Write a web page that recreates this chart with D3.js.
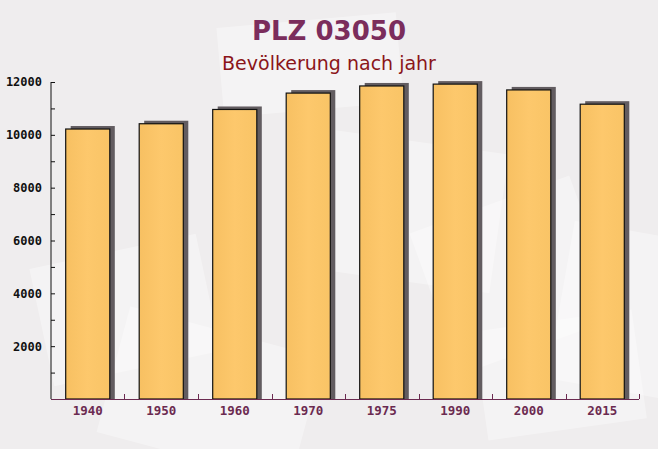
<!DOCTYPE html>
<html><head><meta charset="utf-8">
<script src="https://cdnjs.cloudflare.com/ajax/libs/d3/7.8.5/d3.min.js"></script>
<style>body{margin:0;background:#efedee}svg{display:block}</style>
</head><body><svg id="c" width="658" height="449"></svg>
<script>
const years = ["1940","1950","1960","1970","1975","1990","2000","2015"];
const population = [10220, 10420, 10960, 11580, 11850, 11920, 11700, 11160];
const yTicks = [2000, 4000, 6000, 8000, 10000, 12000];
const titleText = "PLZ 03050";
const subtitleText = "Bevölkerung nach jahr";

const svg = d3.select("#c");
const W = 658, H = 449;
const m = {left: 51, right: 19, top: 82, bottom: 50};

// background
svg.append("rect").attr("width", W).attr("height", H).attr("fill", "#efedee");
const deco = [[40,250,170,120,-12],[300,140,200,140,8],[430,200,170,150,-20],[110,330,200,130,15],[560,230,120,160,10],[220,20,180,90,-5],[480,320,160,110,-8]];
svg.append("g").selectAll("rect").data(deco).join("rect")
  .attr("x", d=>d[0]).attr("y", d=>d[1]).attr("width", d=>d[2]).attr("height", d=>d[3])
  .attr("transform", d=>`rotate(${d[4]},${d[0]+d[2]/2},${d[1]+d[3]/2})`)
  .attr("fill", "#ffffff").attr("opacity", 0.35);

const x = d3.scaleBand().domain(years).range([m.left, W - m.right]).paddingInner(0.4).paddingOuter(0.2);
const y = d3.scaleLinear().domain([0, 12000]).range([H - m.bottom, m.top]);

const defs = svg.append("defs");
const grad = defs.append("linearGradient").attr("id", "g").attr("x1", 0).attr("x2", 1).attr("y1", 0).attr("y2", 0);
grad.append("stop").attr("offset", "0%").attr("stop-color", "#f7c062");
grad.append("stop").attr("offset", "50%").attr("stop-color", "#fdc86c");
grad.append("stop").attr("offset", "100%").attr("stop-color", "#f9c466");

// shadows
svg.append("g").selectAll("rect").data(years).join("rect")
  .attr("x", (d)=>x(d) + 5).attr("width", x.bandwidth())
  .attr("y", (d,i)=>y(population[i]) - 3)
  .attr("height", (d,i)=>y(0) - y(population[i]) + 3)
  .attr("fill", "#625c60");

// bars
svg.append("g").selectAll("rect").data(years).join("rect")
  .attr("x", d=>x(d)).attr("width", x.bandwidth())
  .attr("y", (d,i)=>y(population[i]))
  .attr("height", (d,i)=>y(0) - y(population[i]))
  .attr("fill", "url(#g)").attr("stroke", "#111").attr("stroke-width", 1.2);

// y axis
const yAxis = d3.axisLeft(y).tickValues(yTicks).tickSize(0).tickPadding(9).tickFormat(d3.format("d"));
const gy = svg.append("g").attr("transform", `translate(${m.left},0)`).call(yAxis);
gy.select(".domain").remove();
gy.selectAll("text").attr("font-family", "'DejaVu Sans Mono', monospace").attr("font-weight", "bold")
  .attr("font-size", 12).attr("fill", "#111");
gy.append("line").attr("x1", 0).attr("x2", 0).attr("y1", y(0)).attr("y2", y(12000)).attr("stroke", "#111");
const minor = d3.range(0, 12001, 1000);
gy.selectAll(".mt").data(minor).join("line").attr("class", "mt")
  .attr("x1", 0).attr("x2", 4).attr("y1", d=>y(d)+0.5).attr("y2", d=>y(d)+0.5).attr("stroke", "#111");

// x axis
const xAxis = d3.axisBottom(x).tickSize(0).tickPadding(7);
const gx = svg.append("g").attr("transform", `translate(0,${y(0)})`).call(xAxis);
gx.select(".domain").remove();
gx.selectAll("text").attr("font-family", "'DejaVu Sans Mono', monospace").attr("font-weight", "bold")
  .attr("font-size", 12.5).attr("fill", "#6b2a50");
gx.append("line").attr("x1", m.left).attr("x2", W - m.right).attr("y1", 0.5).attr("y2", 0.5).attr("stroke", "#6b2a50");
const bounds = years.map(d => x(d) - x.step()*x.paddingInner()/2);
bounds.push(W - m.right);
gx.selectAll(".xt").data(bounds.slice(1)).join("line").attr("class", "xt")
  .attr("x1", d=>Math.round(d)+0.5).attr("x2", d=>Math.round(d)+0.5).attr("y1", 0).attr("y2", -5).attr("stroke", "#6b2a50");

// titles
svg.append("text").attr("x", 329).attr("y", 40).attr("text-anchor", "middle")
  .attr("font-family", "'DejaVu Sans', sans-serif").attr("font-weight", "bold")
  .attr("font-size", 26).attr("fill", "#7b2d5c").text(titleText);
svg.append("text").attr("x", 329).attr("y", 70).attr("text-anchor", "middle")
  .attr("font-family", "'DejaVu Sans', sans-serif")
  .attr("font-size", 19).attr("fill", "#8b1519").text(subtitleText);
</script></body></html>
